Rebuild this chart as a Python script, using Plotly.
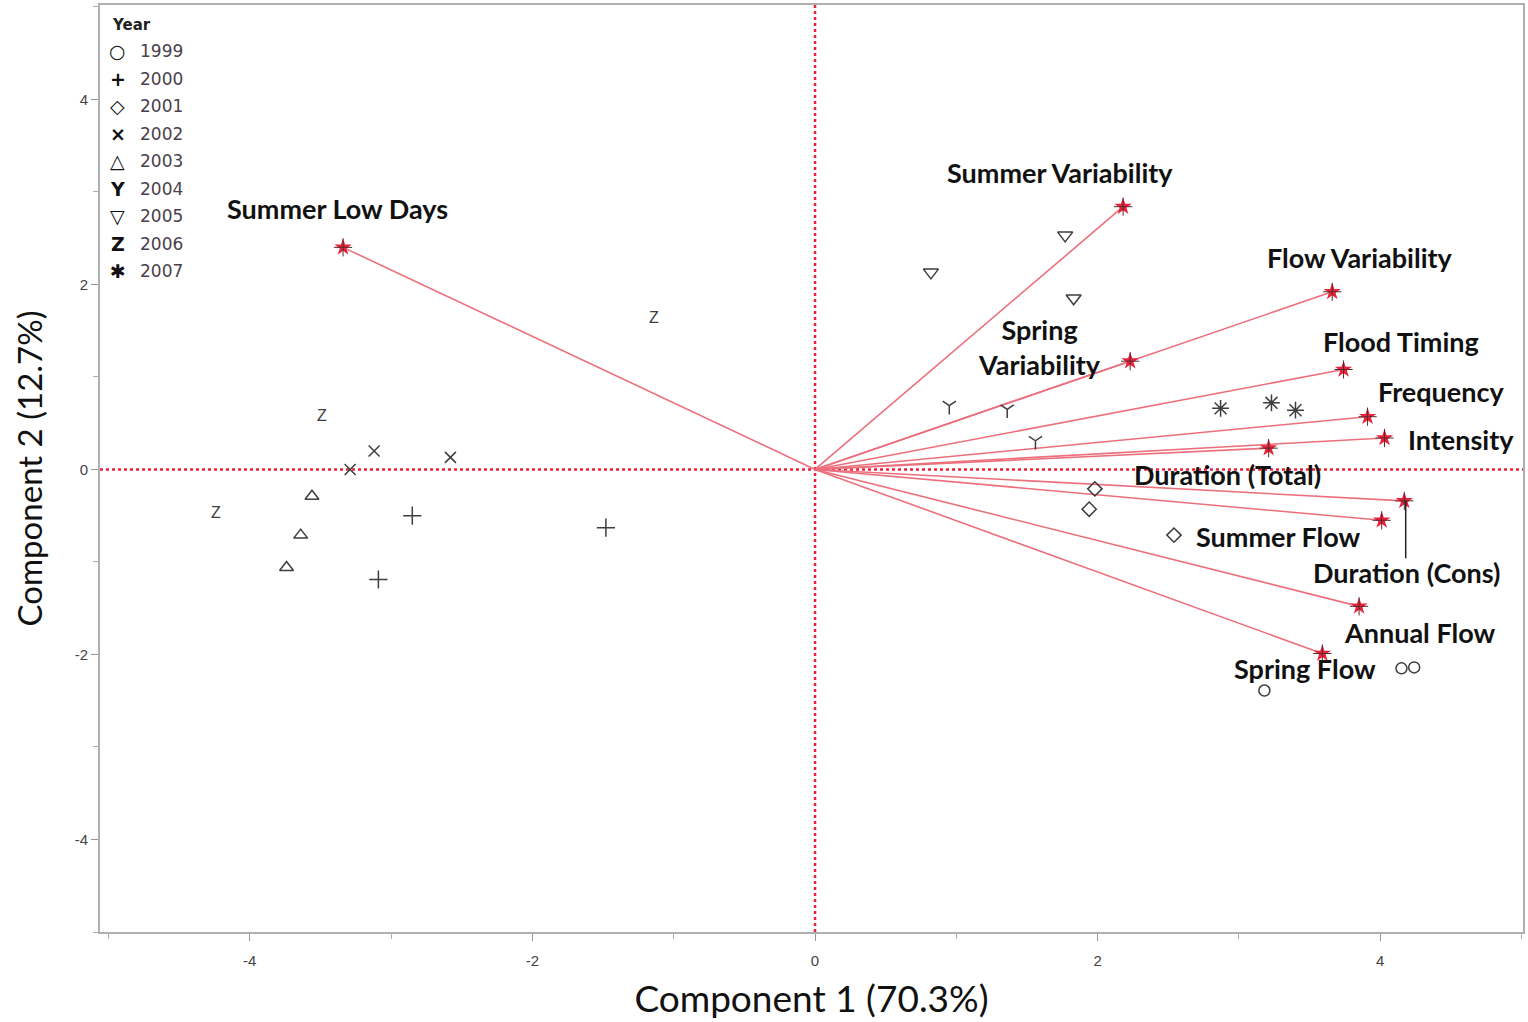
import plotly.graph_objects as go

# ---------------- data ----------------
years = ["1999", "2000", "2001", "2002", "2003", "2004", "2005", "2006", "2007"]
score_x = {
    "1999": [3.18, 4.15, 4.24],
    "2000": [-2.85, -3.09, -1.48],
    "2001": [1.98, 1.94, 2.54],
    "2002": [-3.29, -3.12, -2.58],
    "2003": [-3.56, -3.64, -3.74],
    "2004": [0.95, 1.36, 1.56],
    "2005": [1.77, 0.82, 1.83],
    "2006": [-1.14, -3.49, -4.24],
    "2007": [2.87, 3.23, 3.40],
}
score_y = {
    "1999": [-2.39, -2.15, -2.14],
    "2000": [-0.50, -1.19, -0.63],
    "2001": [-0.21, -0.43, -0.71],
    "2002": [0.00, 0.20, 0.13],
    "2003": [-0.29, -0.71, -1.06],
    "2004": [0.69, 0.65, 0.31],
    "2005": [2.53, 2.13, 1.85],
    "2006": [1.63, 0.57, -0.48],
    "2007": [0.66, 0.72, 0.64],
}

variables = ["Summer Low Days", "Summer Variability", "Flow Variability", "Spring Variability",
             "Flood Timing", "Frequency", "Intensity", "Duration (Total)", "Duration (Cons)",
             "Summer Flow", "Annual Flow", "Spring Flow"]
load_x = [-3.34, 2.18, 3.66, 2.23, 3.74, 3.91, 4.03, 3.21, 4.17, 4.01, 3.85, 3.59]
load_y = [2.40, 2.84, 1.92, 1.17, 1.08, 0.57, 0.34, 0.23, -0.34, -0.55, -1.48, -1.99]

x_ticks = [-4, -2, 0, 2, 4]
y_ticks = [-4, -2, 0, 2, 4]

# ---------------- styling ----------------
symbols = {
    "1999": "circle-open", "2000": "cross-thin-open", "2001": "diamond-open",
    "2002": "x-thin-open", "2003": "triangle-up-open", "2004": "y-down-open",
    "2005": "triangle-down-open", "2006": None, "2007": "asterisk-open",
}
sizes = {"1999": 11, "2000": 13, "2001": 11, "2002": 11, "2003": 12, "2004": 11,
         "2005": 13, "2006": 11, "2007": 14}
legend_glyph = {"1999": "○", "2000": "+", "2001": "◇", "2002": "×", "2003": "△",
                "2004": "Y", "2005": "▽", "2006": "Z", "2007": "✱"}
pt_color = "#3d3d3d"
red = "#e8213c"
vec_color = "#ec6f7c"

# label placement (offsets relative to loading end-points, in data units)
label_pos = {
    "Summer Low Days": (-0.04, 0.42),
    "Summer Variability": (-0.45, 0.37),
    "Flow Variability": (0.20, 0.37),
    "Spring Variability": (-0.64, 0.15),
    "Flood Timing": (0.41, 0.30),
    "Frequency": (0.52, 0.27),
    "Intensity": (0.54, -0.02),
    "Duration (Total)": (-0.29, -0.29),
    "Duration (Cons)": (0.02, -0.77),
    "Summer Flow": (-0.73, -0.17),
    "Annual Flow": (0.43, -0.28),
    "Spring Flow": (-0.12, -0.16),
}

fig = go.Figure()

# reference lines
fig.add_shape(type="line", x0=0, x1=0, y0=-5, y1=5.02, xref="x", yref="y",
              line=dict(color=red, width=2.5, dash="dot"), layer="below")
fig.add_shape(type="line", x0=-5.06, x1=5.01, y0=0, y1=0, xref="x", yref="y",
              line=dict(color=red, width=2.5, dash="dot"), layer="below")

# vectors
vx, vy = [], []
for x, y in zip(load_x, load_y):
    vx += [0, x, None]
    vy += [0, y, None]
fig.add_trace(go.Scatter(x=vx, y=vy, mode="lines", line=dict(color=vec_color, width=1.6),
                         showlegend=False, hoverinfo="skip"))
fig.add_trace(go.Scatter(x=load_x, y=load_y, mode="markers",
                         marker=dict(symbol="star", size=13, color=red, line=dict(width=0)),
                         showlegend=False, text=variables))
fig.add_trace(go.Scatter(x=load_x, y=load_y, mode="markers",
                         marker=dict(symbol="cross-thin-open", size=13, color="#5a2a2a",
                                     line=dict(width=1, color="#5a2a2a")),
                         showlegend=False, hoverinfo="skip"))

# scores
for yr in years:
    if symbols[yr] is None:
        fig.add_trace(go.Scatter(x=score_x[yr], y=score_y[yr], mode="text", text=["Z"] * len(score_x[yr]),
                                 textfont=dict(family="Liberation Sans", size=16, color=pt_color),
                                 showlegend=False, name=yr))
    else:
        fig.add_trace(go.Scatter(x=score_x[yr], y=score_y[yr], mode="markers", name=yr,
                                 marker=dict(symbol=symbols[yr], size=sizes[yr], color=pt_color,
                                             line=dict(width=1.5, color=pt_color)),
                                 showlegend=False))

# variable labels
ann = []
for name, x, y in zip(variables, load_x, load_y):
    dx, dy = label_pos[name]
    txt = "Spring<br>Variability" if name == "Spring Variability" else name
    ann.append(dict(x=x + dx, y=y + dy, xref="x", yref="y", text=txt, showarrow=False,
                    font=dict(family="Lato", size=27, color="#111111", weight="bold"),
                    xanchor="center", yanchor="middle"))
    if name == "Duration (Cons)":
        fig.add_shape(type="line", x0=x + 0.01, x1=x + 0.01, y0=y, y1=y + dy + 0.15,
                      xref="x", yref="y", line=dict(color="#222222", width=1.5))

# custom legend (paper coords)
ann.append(dict(x=0.007, y=0.978, xref="paper", yref="paper", text="<b>Year</b>", showarrow=False,
                xanchor="left", yanchor="middle", font=dict(family="DejaVu Sans", size=15, color="#222")))
for i, yr in enumerate(years):
    yy = 0.978 - (26 + 27.5 * i) / 927
    ann.append(dict(x=0.0126, y=yy, xref="paper", yref="paper", text="<b>" + legend_glyph[yr] + "</b>",
                    showarrow=False, xanchor="center", yanchor="middle",
                    font=dict(family="DejaVu Sans", size=19, color="#111")))
    ann.append(dict(x=0.0265, y=yy, xref="paper", yref="paper", text=yr, showarrow=False,
                    xanchor="left", yanchor="middle",
                    font=dict(family="DejaVu Sans", size=17, color="#4a3f4a")))

axis_common = dict(showgrid=False, zeroline=False, showline=True, linecolor="#b0b0b0", linewidth=2,
                   mirror=True, ticks="outside", ticklen=7, tickcolor="#999",
                   minor=dict(tickvals=[-5, -3, -1, 1, 3, 5], ticks="outside", ticklen=5, tickcolor="#aaa"),
                   tickfont=dict(family="Liberation Sans", size=15, color="#444"))

fig.update_layout(
    width=1528, height=1022,
    margin=dict(l=100, r=3, t=5, b=90),
    paper_bgcolor="white", plot_bgcolor="white",
    annotations=ann,
    showlegend=False,
    xaxis=dict(range=[-5.06, 5.01], tickvals=x_ticks, ticktext=[str(v) for v in x_ticks],
               ticklabelstandoff=7,
               title=dict(text="Component 1 (70.3%)", font=dict(family="Lato", size=37, color="#111"),
                          standoff=18),
               **axis_common),
    yaxis=dict(range=[-5.0, 5.02], tickvals=y_ticks, ticktext=[str(v) for v in y_ticks],
               title=dict(text="Component 2 (12.7%)", font=dict(family="Lato", size=33, color="#111"),
                          standoff=22),
               **axis_common),
)

fig.write_html("out.html", config={"displayModeBar": False},
               post_script="document.body.style.margin='0px';document.body.style.overflow='hidden';")
